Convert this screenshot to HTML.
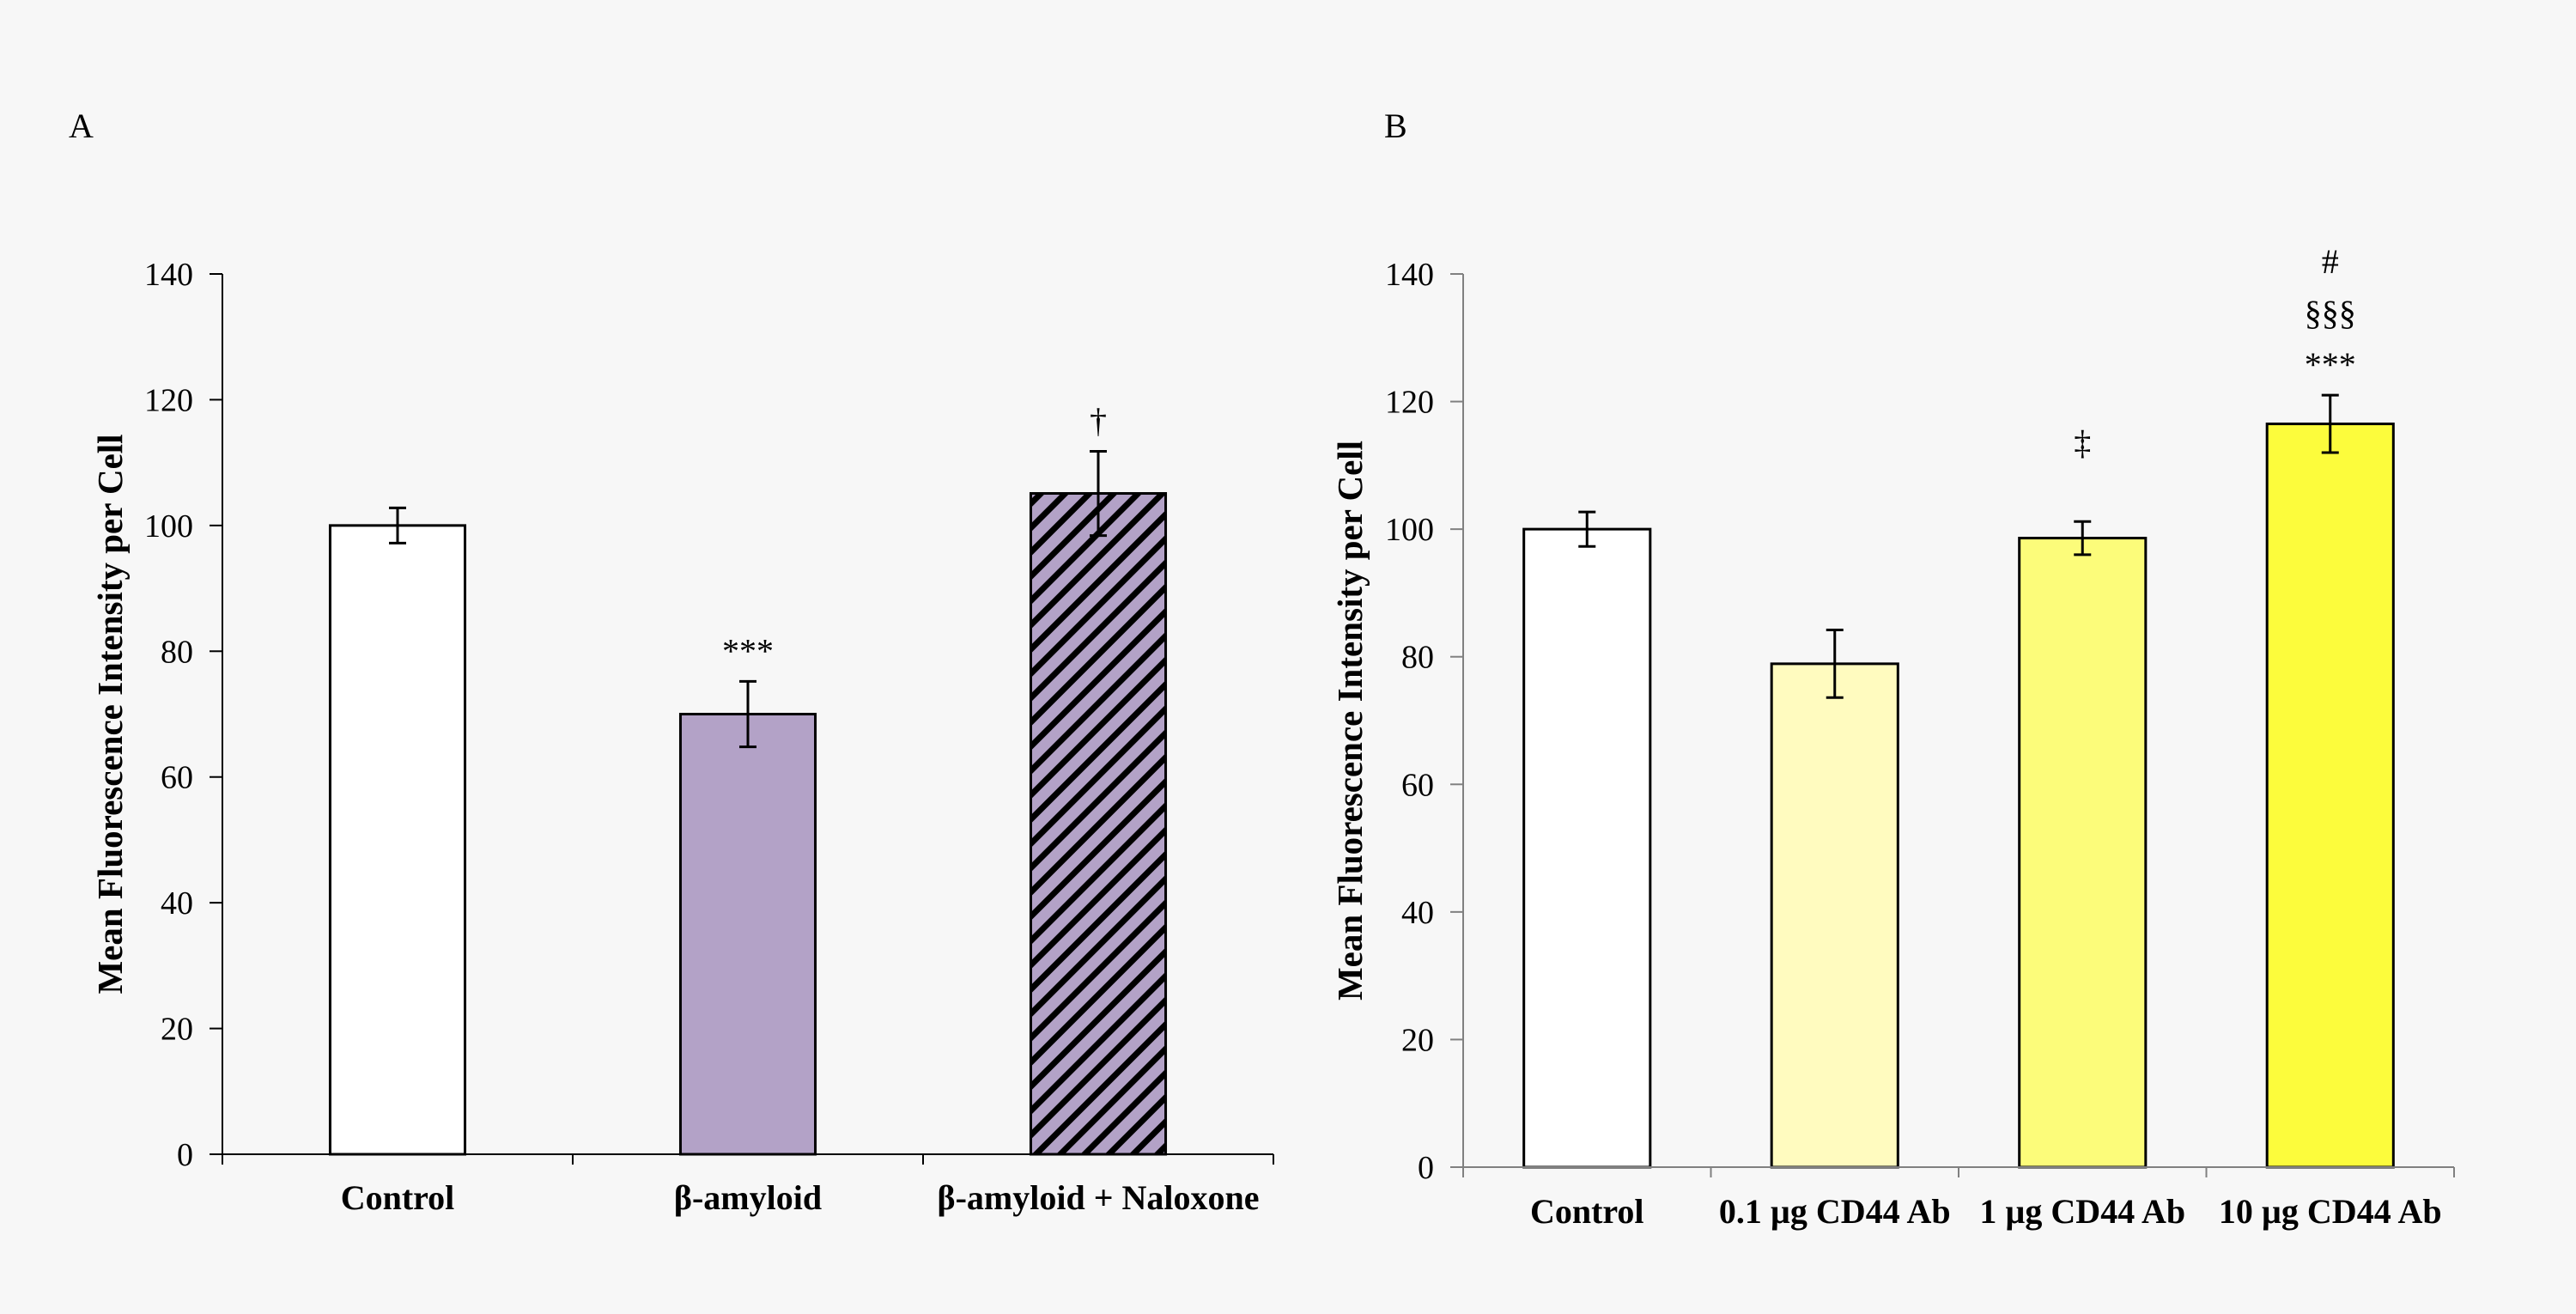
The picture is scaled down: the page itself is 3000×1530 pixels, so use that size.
<!DOCTYPE html>
<html><head><meta charset="utf-8"><style>
html,body{margin:0;padding:0;background:#f7f7f7;}
svg{display:block;font-family:"Liberation Serif",serif;}
</style></head><body>
<svg id="chart" width="3000" height="1530" viewBox="0 0 3000 1530" xmlns="http://www.w3.org/2000/svg">
<defs>
<pattern id="hatch" patternUnits="userSpaceOnUse" width="20" height="20" patternTransform="rotate(-45)">
<rect width="20" height="20" fill="#b3a2c7"/>
<rect width="20" height="7" fill="#000"/>
</pattern>
</defs>
<rect width="3000" height="1530" fill="#f7f7f7"/>
<text x="80" y="160" font-size="40">A</text>
<text x="1612" y="160" font-size="40">B</text>
<g id="pa"></g>
<g id="pb"></g>
</svg>
<script>
const catsA = ["Control", "β-amyloid", "β-amyloid + Naloxone"];
const valsA = [100, 70, 105.1];
const errsA = [2.8, 5.2, 6.7];
const annA = ["", "***", "†"];
const catsB = ["Control", "0.1 µg CD44 Ab", "1 µg CD44 Ab", "10 µg CD44 Ab"];
const valsB = [100, 78.9, 98.6, 116.5];
const errsB = [2.7, 5.3, 2.6, 4.5];
const annB = [[], [], ["‡"], ["***", "§§§", "#"]];
const yTicks = [0, 20, 40, 60, 80, 100, 120, 140];

const NS = "http://www.w3.org/2000/svg";
function mk(parent, tag, attrs, text) {
  const e = document.createElementNS(NS, tag);
  for (const k in attrs) e.setAttribute(k, attrs[k]);
  if (text !== undefined) e.textContent = text;
  parent.appendChild(e);
  return e;
}

function panel(g, o) {
  const y = v => o.y0 - (v / 140) * (o.y0 - o.y1);
  const cw = (o.x1 - o.x0) / o.cats.length;
  const xc = i => o.x0 + cw * (i + 0.5);
  let ax = mk(g, "line", {x1: o.x0, y1: o.y1, x2: o.x0, y2: o.y0, stroke: o.axisColor, "stroke-width": 2});
  
  
  yTicks.forEach(t => {
    let tl = mk(g, "line", {x1: o.x0 - 15, y1: y(t), x2: o.x0, y2: y(t), stroke: o.axisColor, "stroke-width": 2});
    
    
    let tx = mk(g, "text", {x: o.x0 - 34, y: y(t) + 13, "font-size": 38, "text-anchor": "end"}, String(t));
    
    
  });
  let yt = mk(g, "text", {x: 0, y: 0, "font-size": 41, "font-weight": "bold", "text-anchor": "middle",
    transform: `translate(${o.titleX},${(o.y0 + o.y1) / 2}) rotate(-90)`}, "Mean Fluorescence Intensity per Cell");
  
  
  o.cats.forEach((c, i) => {
    const bw = cw * o.bwFrac;
    let b = mk(g, "rect", {x: xc(i) - bw / 2, y: y(o.vals[i]), width: bw, height: y(0) - y(o.vals[i]),
      fill: o.fills[i], stroke: "#000", "stroke-width": 3});
    
    
    const et = y(o.vals[i] + o.errs[i]), eb = y(o.vals[i] - o.errs[i]);
    let e = mk(g, "path", {d: `M${xc(i)},${et}V${eb}M${xc(i) - 10},${et}H${xc(i) + 10}M${xc(i) - 10},${eb}H${xc(i) + 10}`,
      stroke: "#000", "stroke-width": 3, fill: "none"});
    
    
    let cl = mk(g, "text", {x: xc(i), y: o.labelY, "font-size": 40, "font-weight": "bold", "text-anchor": "middle"}, c);
    
    
    const anns = o.ann[i];
    const off = anns.length === 1 && o.id === 'panel-b' ? 78 : 22;
    anns.forEach((a, k) => {
      let at = mk(g, "text", {x: xc(i), y: et - off - k * o.annGap, "font-size": 40, "text-anchor": "middle"}, a);
      
      
    });
  });
  let xa = mk(g, "line", {x1: o.x0, y1: o.y0, x2: o.x1, y2: o.y0, stroke: o.axisColor, "stroke-width": 2});
  
  
  for (let i = 0; i <= o.cats.length; i++) {
    let t = mk(g, "line", {x1: o.x0 + cw * i, y1: o.y0, x2: o.x0 + cw * i, y2: o.y0 + 12, stroke: o.axisColor, "stroke-width": 2});
    
    
  }
}

panel(document.getElementById("pa"), {id: "panel-a", x0: 259, x1: 1483, y0: 1344, y1: 319,
  cats: catsA, vals: valsA, errs: errsA, ann: annA.map(a => a ? [a] : []),
  fills: ["#ffffff", "#b3a2c7", "url(#hatch)"], bwFrac: 0.385, titleX: 142, labelY: 1408,
  axisColor: "#000", annGap: 60});
panel(document.getElementById("pb"), {id: "panel-b", x0: 1704, x1: 2858, y0: 1359, y1: 319,
  cats: catsB, vals: valsB, errs: errsB, ann: annB,
  fills: ["#ffffff", "#fffbbf", "#fcfc7a", "#fcfc3c"], bwFrac: 0.51, titleX: 1586, labelY: 1424,
  axisColor: "#808080", annGap: 60});
</script>
</body></html>
